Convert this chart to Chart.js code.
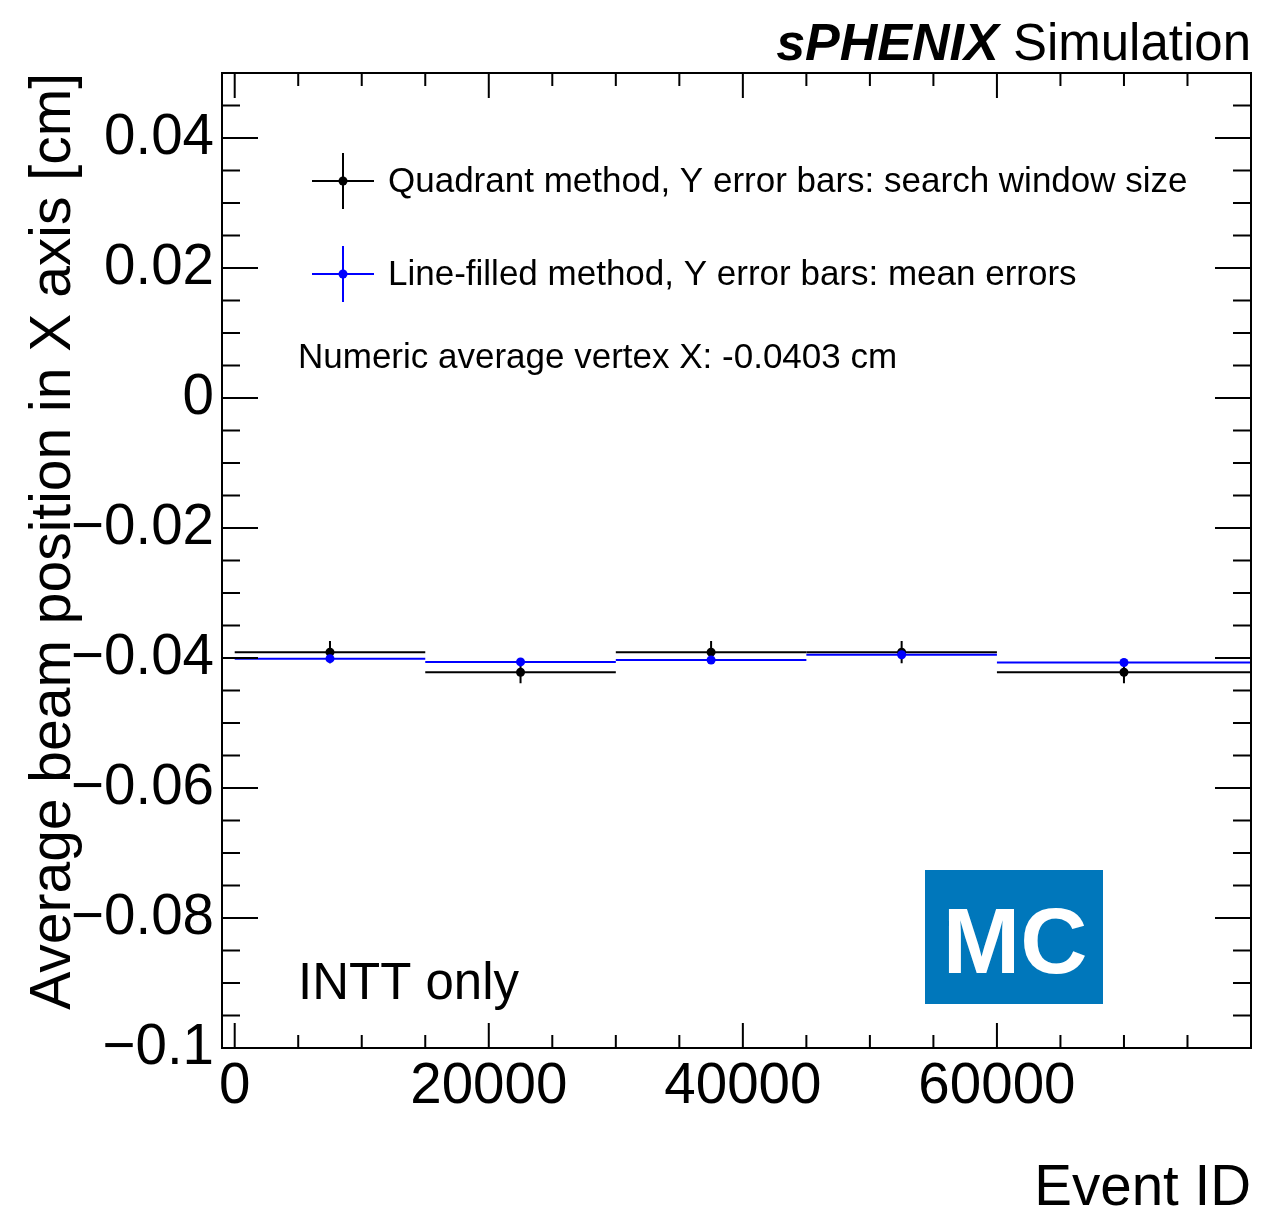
<!DOCTYPE html>
<html>
<head>
<meta charset="utf-8">
<script src="https://cdn.jsdelivr.net/npm/chart.js@4.4.1/dist/chart.umd.min.js"></script>
<style>
  html, body { margin: 0; padding: 0; background: #fff; }
  #wrap { width: 1261px; height: 1212px; position: relative; }
</style>
</head>
<body>
<div id="wrap"><canvas id="beamChart"></canvas></div>
<script>
// bins in event ID
const binLow = [0, 15000, 30000, 45000, 60000];
const binHigh = [15000, 30000, 45000, 60000, 80000];
const binCenter = [7500, 22500, 37500, 52500, 70000];

// quadrant method (black), error = search window size
const quadrantX = [-0.0391, -0.0422, -0.0391, -0.0391, -0.0422];
const quadrantErr = [0.0017, 0.0017, 0.0017, 0.0017, 0.0017];

// line-filled method (blue), error = mean errors
const lineFilledX = [-0.0401, -0.0406, -0.0403, -0.0395, -0.0407];
const lineFilledErr = [0.0003, 0.0003, 0.0003, 0.0003, 0.0003];

const xTicks = [0, 20000, 40000, 60000];
const xTickLabels = ['0', '20000', '40000', '60000'];
const yTicks = [-0.1, -0.08, -0.06, -0.04, -0.02, 0, 0.02, 0.04];
const yTickLabels = ['\u22120.1', '\u22120.08', '\u22120.06', '\u22120.04', '\u22120.02', '0', '0.02', '0.04'];

const legendLabels = [
    'Quadrant method, Y error bars: search window size',
    'Line-filled method, Y error bars: mean errors'
];

const FONT = '"Liberation Sans", Arial, Helvetica, sans-serif';

function toPoints(xs, ys) {
    return xs.map((x, i) => ({ x: x, y: ys[i] }));
}

const errBars = {
    id: 'errBars',
    beforeDatasetDraw(chart, args) {
        const ds = chart.data.datasets[args.index];
        const xs = chart.scales.x, ys = chart.scales.y;
        const ctx = chart.ctx;
        ctx.save();
        ctx.strokeStyle = ds.borderColor;
        ctx.lineWidth = 2;
        ds.binLow.forEach((lo, i) => {
            const py = ys.getPixelForValue(ds.data[i].y);
            const px = xs.getPixelForValue(ds.data[i].x);
            ctx.beginPath();
            ctx.moveTo(xs.getPixelForValue(lo), py);
            ctx.lineTo(xs.getPixelForValue(ds.binHigh[i]), py);
            ctx.moveTo(px, ys.getPixelForValue(ds.data[i].y + ds.yErr[i]));
            ctx.lineTo(px, ys.getPixelForValue(ds.data[i].y - ds.yErr[i]));
            ctx.stroke();
        });
        ctx.restore();
    }
};

const decorations = {
    id: 'decorations',
    afterDraw(chart) {
        const ctx = chart.ctx;
        const a = chart.chartArea;
        const xs = chart.scales.x, ys = chart.scales.y;
        ctx.save();
        ctx.strokeStyle = '#000';
        ctx.lineWidth = 2;

        // ticks pointing inward on all four sides
        ctx.beginPath();
        for (let v = 0; v <= 80000; v += 5000) {
            const px = xs.getPixelForValue(v);
            const len = v % 20000 === 0 ? 25 : 13;
            ctx.moveTo(px, a.bottom); ctx.lineTo(px, a.bottom - len);
            ctx.moveTo(px, a.top); ctx.lineTo(px, a.top + len);
        }
        for (let k = -20; k <= 10; k++) {
            const py = ys.getPixelForValue(k * 0.005);
            const len = k % 4 === 0 ? 36 : 18;
            ctx.moveTo(a.left, py); ctx.lineTo(a.left + len, py);
            ctx.moveTo(a.right, py); ctx.lineTo(a.right - len, py);
        }
        ctx.stroke();

        // frame
        ctx.strokeRect(a.left, a.top, a.right - a.left, a.bottom - a.top);

        // legend
        const colors = ['#000', '#0000ff'];
        const rows = [181, 274];
        rows.forEach((cy, i) => {
            ctx.strokeStyle = colors[i];
            ctx.fillStyle = colors[i];
            ctx.beginPath();
            ctx.moveTo(312, cy); ctx.lineTo(374, cy);
            ctx.moveTo(343, cy - 28); ctx.lineTo(343, cy + 28);
            ctx.stroke();
            ctx.beginPath();
            ctx.arc(343, cy, 4.5, 0, Math.PI * 2);
            ctx.fill();
            ctx.fillStyle = '#000';
            ctx.font = '35px ' + FONT;
            ctx.textAlign = 'left';
            ctx.textBaseline = 'alphabetic';
            ctx.fillText(legendLabels[i], 388, cy + 11);
        });

        ctx.fillStyle = '#000';
        ctx.font = '35px ' + FONT;
        ctx.fillText('Numeric average vertex X: -0.0403 cm', 298, 368);

        ctx.font = '51px ' + FONT;
        ctx.fillText('INTT only', 298, 999);

        // MC badge
        ctx.fillStyle = '#0077bb';
        ctx.fillRect(925, 870, 178, 134);
        ctx.fillStyle = '#fff';
        ctx.font = 'bold 93px ' + FONT;
        ctx.textAlign = 'center';
        ctx.fillText('MC', 1015, 973);

        // header
        ctx.fillStyle = '#000';
        ctx.textAlign = 'right';
        ctx.font = '51px ' + FONT;
        ctx.fillText('Simulation', 1251, 60);
        const wSim = ctx.measureText(' Simulation').width;
        ctx.font = 'italic bold 52px ' + FONT;
        ctx.fillText('sPHENIX', 1251 - wSim, 60);

        // axis titles
        ctx.font = '56.5px ' + FONT;
        ctx.fillText('Event ID', 1251, 1205);
        ctx.translate(70, 73);
        ctx.rotate(-Math.PI / 2);
        ctx.font = '57px ' + FONT;
        ctx.textAlign = 'right';
        ctx.fillText('Average beam position in X axis [cm]', 0, 0);
        ctx.restore();
    }
};

const ctx = document.getElementById('beamChart').getContext('2d');
const beamChart = new Chart(ctx, {
    type: 'scatter',
    data: {
        datasets: [{
            label: legendLabels[0],
            data: toPoints(binCenter, quadrantX),
            binLow: binLow,
            binHigh: binHigh,
            yErr: quadrantErr,
            borderColor: '#000',
            backgroundColor: '#000',
            pointRadius: 4.5,
            pointBorderWidth: 0,
            order: 2
        }, {
            label: legendLabels[1],
            data: toPoints(binCenter, lineFilledX),
            binLow: binLow,
            binHigh: binHigh,
            yErr: lineFilledErr,
            borderColor: '#0000ff',
            backgroundColor: '#0000ff',
            pointRadius: 4.5,
            pointBorderWidth: 0,
            order: 1
        }]
    },
    options: {
        responsive: true,
        maintainAspectRatio: false,
        animation: false,
        layout: { padding: { top: 73, right: 10, left: 0, bottom: 0 } },
        plugins: {
            legend: { display: false },
            tooltip: { enabled: false }
        },
        scales: {
            x: {
                type: 'linear',
                min: -1000,
                max: 80000,
                grid: { display: false, drawTicks: false },
                border: { display: false },
                afterBuildTicks: s => { s.ticks = xTicks.map(v => ({ value: v })); },
                afterFit: s => { s.height = 164; },
                ticks: {
                    autoSkip: false,
                    maxRotation: 0,
                    padding: 6,
                    color: '#000',
                    font: { family: FONT, size: 56.5 },
                    callback: v => xTickLabels[xTicks.indexOf(v)]
                }
            },
            y: {
                min: -0.1,
                max: 0.05,
                grid: { display: false, drawTicks: false },
                border: { display: false },
                afterBuildTicks: s => { s.ticks = yTicks.map(v => ({ value: v })); },
                afterFit: s => { s.width = 222; },
                ticks: {
                    autoSkip: false,
                    padding: 8,
                    color: '#000',
                    font: { family: FONT, size: 56.5 },
                    callback: v => yTickLabels[yTicks.indexOf(v)]
                }
            }
        }
    },
    plugins: [errBars, decorations]
});
</script>
</body>
</html>
